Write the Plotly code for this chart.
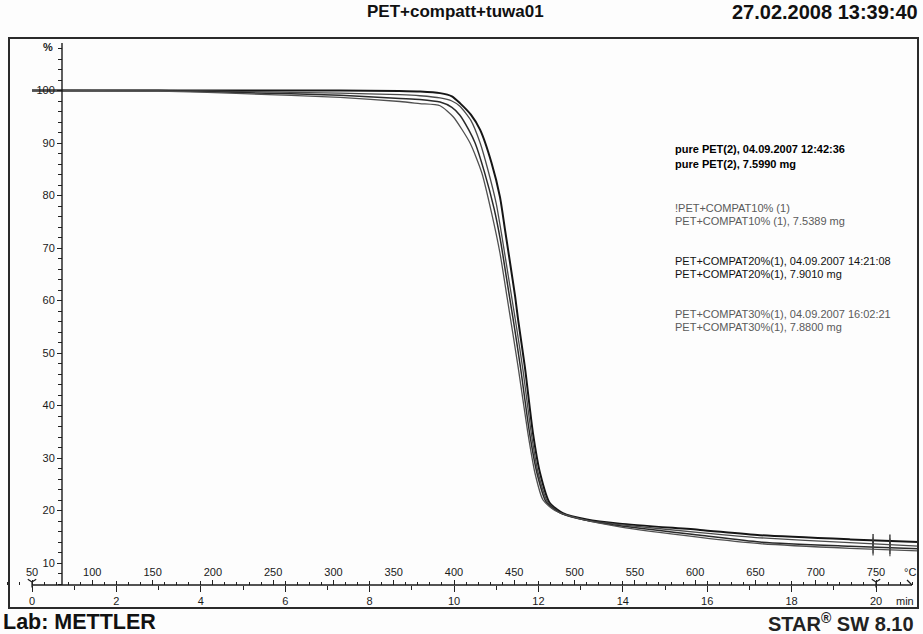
import numpy as np
import plotly.graph_objects as go

W, H = 923, 634

# ---------------- data (time in min, residual mass in %) ----------------
t_pure = [0, 3, 5, 7.3, 8.7, 9.2, 9.67, 9.95, 10.14, 10.4, 10.62, 10.89, 11.09, 11.21, 11.33,
          11.45, 11.52, 11.68, 11.87, 12.04, 12.27, 12.58, 13.15, 13.93, 15.83, 17.25, 19.38, 21.0]
w_pure = [100, 100, 100, 100, 99.9, 99.8, 99.5, 98.9, 97.6, 95.4, 92.5, 86.2, 79.7, 73.4, 67.1,
          60.7, 56.3, 47.3, 34.8, 27.1, 21.4, 19.5, 18.3, 17.5, 16.3, 15.3, 14.5, 14.0]

t_c10 = [0, 3, 5, 7.3, 8.72, 9.19, 9.67, 9.95, 10.14, 10.4, 10.62, 10.8, 11.0, 11.14, 11.27,
         11.4, 11.48, 11.63, 11.83, 12.0, 12.23, 12.55, 13.15, 13.93, 15.83, 17.25, 19.38, 21.0]
w_c10 = [100, 100, 99.8, 99.5, 99.2, 99.0, 98.6, 98.0, 97.0, 94.3, 90.0, 85.0, 78.5, 72.0, 65.5,
         59.0, 55.0, 47.0, 34.8, 27.0, 21.5, 19.4, 18.1, 17.3, 15.8, 14.8, 13.9, 13.2]

t_c20 = [0, 3, 5, 7.3, 8.72, 9.19, 9.67, 9.95, 10.14, 10.35, 10.5, 10.72, 10.95, 11.1, 11.24,
         11.36, 11.43, 11.58, 11.79, 11.97, 12.18, 12.5, 13.1, 13.93, 15.83, 17.25, 19.38, 21.0]
w_c20 = [100, 100, 99.6, 99.1, 98.5, 98.3, 97.8, 96.8, 95.3, 92.5, 90.0, 84.5, 77.5, 71.5, 64.5,
         58.5, 55.0, 47.0, 34.8, 27.0, 21.7, 19.6, 18.2, 17.1, 15.3, 14.0, 13.2, 12.7]

t_c30 = [0, 3, 5, 7.3, 8.72, 9.19, 9.67, 9.98, 10.38, 10.66, 10.89, 11.09, 11.26, 11.52,
         11.75, 11.92, 12.11, 12.39, 12.99, 13.93, 15.83, 17.25, 19.38, 21.0]
w_c30 = [100, 99.9, 99.4, 98.7, 97.9, 97.5, 97.1, 95.0, 90.0, 84.3, 76.7, 69.0, 60.5, 47.3,
         34.8, 27.1, 22.0, 20.0, 18.4, 16.9, 14.9, 13.7, 12.8, 12.3]

curve_labels = [
    ("pure PET(2), 04.09.2007 12:42:36", "pure PET(2), 7.5990 mg"),
    ("!PET+COMPAT10% (1)", "PET+COMPAT10% (1), 7.5389 mg"),
    ("PET+COMPAT20%(1), 04.09.2007 14:21:08", "PET+COMPAT20%(1), 7.9010 mg"),
    ("PET+COMPAT30%(1), 04.09.2007 16:02:21", "PET+COMPAT30%(1), 7.8800 mg"),
]

time_ticks = [0, 2, 4, 6, 8, 10, 12, 14, 16, 18, 20]
time_minor = [1, 3, 5, 7, 9, 11, 13, 15, 17, 19]
temp_ticks = [50, 100, 150, 200, 250, 300, 350, 400, 450, 500, 550, 600, 650, 700, 750]
temp_minor = [v for v in range(30, 790, 10) if v % 50 != 0]
pct_ticks = [10, 20, 30, 40, 50, 60, 70, 80, 90, 100]
pct_minor = [v for v in range(6, 110, 2) if v % 10 != 0]
segment_marks = [19.93, 20.33]
range_marks = [0, 20]

title_text = "PET+compatt+tuwa01"
date_text = "27.02.2008 13:39:40"
lab_text = "Lab: METTLER"
sw_text = "STAR<sup>®</sup> SW 8.10"

# ---------------- geometry of the picture ----------------
X0_PX, PX_PER_MIN = 32.0, 42.2
Y_REF_PX, Y_REF_VAL, PX_PER_PCT = 248.0, 70.0, 5.25
T0, RATE = 50.0, 35.0
AXIS_Y_PX = 585
YAXIS_X_PX = 62

x_range = [(0 - X0_PX) / PX_PER_MIN, (W - X0_PX) / PX_PER_MIN]
y_range = [Y_REF_VAL - (H - Y_REF_PX) / PX_PER_PCT, Y_REF_VAL + Y_REF_PX / PX_PER_PCT]
temp_range = [T0 + RATE * x_range[0], T0 + RATE * x_range[1]]
axis_level = Y_REF_VAL - (AXIS_Y_PX - 3 - Y_REF_PX) / PX_PER_PCT


def px(x):
    return x / W


def py(y):
    return 1 - y / H


FONT = "Liberation Sans, Arial, sans-serif"

fig = go.Figure()

series = [
    (t_pure, w_pure, "#151515", 2.0),
    (t_c10, w_c10, "#4a4a4a", 1.3),
    (t_c20, w_c20, "#2a2a2a", 1.5),
    (t_c30, w_c30, "#505050", 1.3),
]
for (t, w, col, lw), (lab, _) in zip(series, curve_labels):
    fig.add_trace(go.Scatter(x=t, y=w, mode="lines", line=dict(color=col, width=lw, shape="spline", smoothing=0.6),
                             name=lab, showlegend=False, hoverinfo="skip"))
    mk_y = np.interp(segment_marks, t, w)
    fig.add_trace(go.Scatter(x=segment_marks, y=mk_y, mode="markers",
                             marker=dict(symbol="line-ns", size=9, line=dict(color=col, width=1.2)),
                             showlegend=False, hoverinfo="skip"))

# start / end marks of the evaluated range on the time axis
fig.add_trace(go.Scatter(x=range_marks, y=[axis_level] * len(range_marks), mode="markers",
                         marker=dict(symbol="y-down", size=7, line=dict(color="#1a1a1a", width=1.2)),
                         showlegend=False, hoverinfo="skip"))

# empty traces so overlaying axes are drawn
fig.add_trace(go.Scatter(x=[None], y=[None], xaxis="x2", showlegend=False, hoverinfo="skip"))
fig.add_trace(go.Scatter(x=[None], y=[None], xaxis="x3", showlegend=False, hoverinfo="skip"))

tickfont = dict(family=FONT, size=11, color="#1a1a1a")
pos_x = py(AXIS_Y_PX)

fig.update_layout(
    width=W, height=H, autosize=False,
    margin=dict(l=0, r=0, t=0, b=0),
    paper_bgcolor="#fdfdfd", plot_bgcolor="rgba(0,0,0,0)",
    showlegend=False,
    xaxis=dict(range=x_range, domain=[0, 1], anchor="free", position=pos_x,
               showgrid=False, zeroline=False, showline=False,
               tickvals=time_ticks, ticktext=[str(v) for v in time_ticks],
               ticks="outside", ticklen=6, tickwidth=1.3, tickcolor="#222",
               tickfont=tickfont,
               minor=dict(tickvals=time_minor, ticks="outside", ticklen=4, tickwidth=1, tickcolor="#222")),
    xaxis2=dict(range=temp_range, overlaying="x", side="top", anchor="free", position=pos_x,
                showgrid=False, zeroline=False, showline=False,
                tickvals=temp_ticks, ticktext=[str(v) for v in temp_ticks],
                ticks="outside", ticklen=5, tickwidth=1.1, tickcolor="#222",
                tickfont=tickfont,
                minor=dict(tickvals=temp_minor, ticks="outside", ticklen=3, tickwidth=1, tickcolor="#222")),
    xaxis3=dict(range=x_range, overlaying="x", side="top", anchor="free", position=pos_x,
                showgrid=False, zeroline=False, showline=False, showticklabels=False,
                tickvals=time_ticks, ticks="outside", ticklen=4, tickwidth=1.3, tickcolor="#222"),
    yaxis=dict(range=y_range, domain=[0, 1], anchor="free", position=px(YAXIS_X_PX),
               showgrid=False, zeroline=False, showline=False,
               tickvals=pct_ticks, ticktext=[str(v) for v in pct_ticks],
               ticks="outside", ticklen=5, tickwidth=1.2, tickcolor="#222",
               tickfont=tickfont,
               minor=dict(tickvals=pct_minor, ticks="outside", ticklen=4, tickwidth=1, tickcolor="#222")),
)

shapes = [
    # outer frame
    dict(type="rect", xref="paper", yref="paper", x0=px(9), x1=px(918), y0=py(608), y1=py(38),
         line=dict(color="#2a2a2a", width=2)),
    # y axis line
    dict(type="line", xref="paper", yref="paper", x0=px(YAXIS_X_PX), x1=px(YAXIS_X_PX), y0=py(AXIS_Y_PX), y1=py(43),
         line=dict(color="#1a1a1a", width=1.4)),
    # x axis line
    dict(type="line", xref="paper", yref="paper", x0=px(X0_PX), x1=px(912), y0=py(AXIS_Y_PX), y1=py(AXIS_Y_PX),
         line=dict(color="#1a1a1a", width=1.4)),
    # arrow head at end of x axis
    dict(type="line", xref="paper", yref="paper", x0=px(907), x1=px(912), y0=py(580), y1=py(AXIS_Y_PX),
         line=dict(color="#1a1a1a", width=1.2)),
]
fig.update_layout(shapes=shapes)

ann = []


def text(x, y, s, size, color="#111", anchor="left", bold=False):
    ann.append(dict(xref="paper", yref="paper", x=px(x), y=py(y), text=("<b>%s</b>" % s) if bold else s,
                    showarrow=False, xanchor=anchor, yanchor="middle",
                    font=dict(family=FONT, size=size, color=color)))


text(455, 12, title_text, 17, "#111", "center", True)
text(920, 12, date_text, 20, "#111", "right", True)
text(1, 622, lab_text, 21.5, "#111", "left", True)
text(916, 622, sw_text, 20, "#222", "right", True)

text(48, 47, "%", 11, "#1a1a1a", "center", True)
text(910, 572, "°C", 11, "#1a1a1a", "center")
text(905, 601, "min", 11, "#1a1a1a", "center")

LEG_X = 673
leg_rows = [(149, 164), (208, 221), (261, 274), (314, 327)]
leg_style = [("#000", True), ("#5a5a5a", False), ("#111", False), ("#5a5a5a", False)]
for (l1, l2), (y1, y2), (col, b) in zip(curve_labels, leg_rows, leg_style):
    text(LEG_X, y1, l1, 11, col, "left", b)
    text(LEG_X, y2, l2, 11, col, "left", b)

fig.update_layout(annotations=ann)

fig.write_html("out.html")
